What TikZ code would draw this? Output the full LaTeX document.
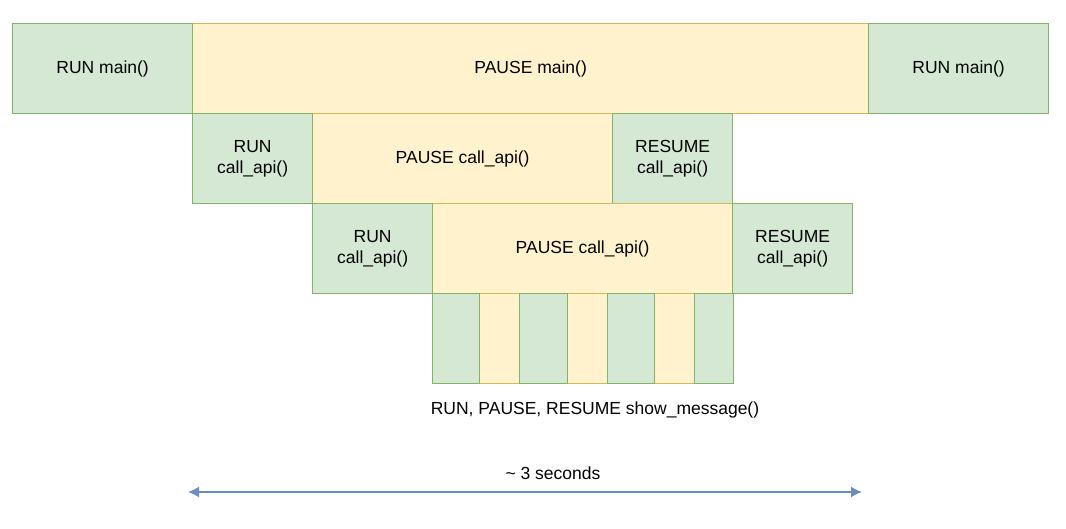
\documentclass[tikz,border=0pt]{standalone}
\usepackage{fontspec}
\setmainfont{Liberation Sans}
\usetikzlibrary{arrows.meta}
\definecolor{gfill}{HTML}{D5E8D4}
\definecolor{gdraw}{HTML}{82B366}
\definecolor{yfill}{HTML}{FFF2CC}
\definecolor{ydraw}{HTML}{D6B656}
\definecolor{bline}{HTML}{6C8EBF}
\begin{document}
\begin{tikzpicture}[x=1pt,y=-1pt,
  box/.style={rectangle, draw, line width=1.3pt, inner sep=0pt, anchor=north west,
    font=\fontsize{17.5}{21.5}\selectfont, align=center},
  runbox/.style={box, fill=gfill, draw=gdraw},
  pausebox/.style={box, fill=yfill, draw=ydraw},
  lbl/.style={font=\fontsize{17.5}{21.5}\selectfont, inner sep=0pt}]
\useasboundingbox (0,0) rectangle (1066,529);
% row 1
\node[pausebox, minimum width=676pt, minimum height=90pt] (pm) at (192,23) {PAUSE main()};
\node[runbox, minimum width=180pt, minimum height=90pt] (rm1) at (12,23) {RUN main()};
\node[runbox, minimum width=180pt, minimum height=90pt] (rm2) at (868,23) {RUN main()};
% row 2
\node[pausebox, minimum width=300pt, minimum height=90pt] (pa1) at (312,113) {PAUSE call\_api()};
\node[runbox, minimum width=120pt, minimum height=90pt] (ra1) at (192,113) {RUN\\call\_api()};
\node[runbox, minimum width=120pt, minimum height=90pt] (sa1) at (612,113) {RESUME\\call\_api()};
% row 3
\node[pausebox, minimum width=300pt, minimum height=90pt] (pa2) at (432,203) {PAUSE call\_api()};
\node[runbox, minimum width=120pt, minimum height=90pt] (ra2) at (312,203) {RUN\\call\_api()};
\node[runbox, minimum width=120pt, minimum height=90pt] (sa2) at (732,203) {RESUME\\call\_api()};
% row 4
\node[pausebox, minimum width=40pt, minimum height=90pt] (m2) at (479,293) {};
\node[pausebox, minimum width=40pt, minimum height=90pt] (m4) at (567,293) {};
\node[pausebox, minimum width=40pt, minimum height=90pt] (m6) at (654,293) {};
\node[runbox, minimum width=47pt, minimum height=90pt] (m1) at (432,293) {};
\node[runbox, minimum width=48pt, minimum height=90pt] (m3) at (519,293) {};
\node[runbox, minimum width=47pt, minimum height=90pt] (m5) at (607,293) {};
\node[runbox, minimum width=39pt, minimum height=90pt] (m7) at (694,293) {};
% labels
\node[lbl] (sm) at (595,410) {RUN, PAUSE, RESUME show\_message()};
\node[lbl] (sec) at (553,473) {\textasciitilde{} 3 seconds};
\coordinate (al) at (188,492);
\coordinate (ar) at (862,492);
\draw[bline, line width=1.5pt, {Latex[length=11pt,width=11pt]}-{Latex[length=11pt,width=11pt]}] (al) -- (ar);
\end{tikzpicture}
\end{document}
